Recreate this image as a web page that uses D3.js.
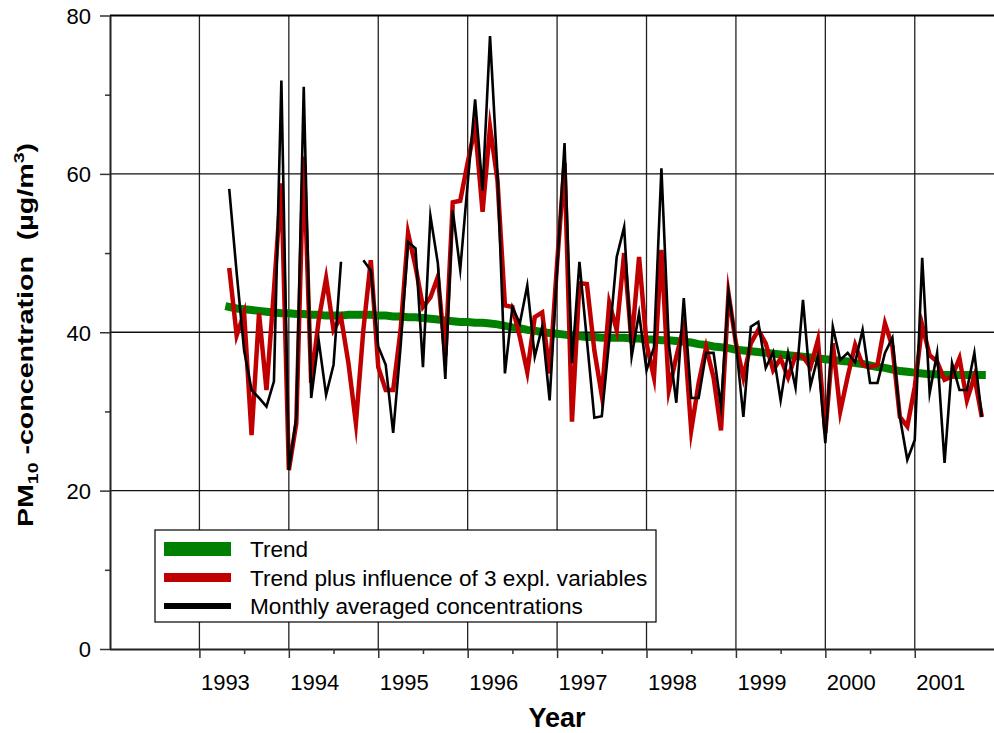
<!DOCTYPE html>
<html>
<head>
<meta charset="utf-8">
<script src="https://cdn.jsdelivr.net/npm/d3@7"></script>
<style>
  html, body { margin: 0; padding: 0; background: #fff; }
  svg { display: block; }
  text { font-family: Arial, "Liberation Sans", Helvetica, sans-serif; fill: #000; }
</style>
</head>
<body>
<svg id="chart" width="994" height="733"></svg>
<script>
// Monthly PM10 series, May 1993 .. Oct 2001 (one value per month)
const firstYear = 1993;
const firstMonth = 5; // May

// Monthly averaged concentrations (µg/m³); null = no measurement
const monthly = [58.1, 47.5, 37.7, 32.7, 31.7, 30.6, 33.8, 71.8, 22.6, 29.2,
  71.0, 31.7, 39.0, 32.1, 35.9, 48.9, null, null, 49.1, 47.8,
  38.2, 35.9, 27.3, 38.2, 51.4, 50.6, 35.6, 54.7, 48.7, 34.1,
  55.4, 47.9, 58.8, 69.4, 57.9, 77.4, 60.1, 34.8, 43.2, 41.1,
  45.9, 36.9, 40.7, 31.4, 47.9, 63.9, 36.1, 48.9, 39.0, 29.2,
  29.4, 39.0, 49.5, 53.3, 36.9, 42.4, 35.2, 38.1, 60.7, 38.6,
  31.1, 44.3, 31.7, 31.7, 37.4, 37.4, 30.6, 45.1, 38.6, 29.3,
  40.7, 41.3, 35.5, 37.5, 31.4, 37.4, 33.0, 44.1, 33.2, 36.9,
  26.0, 40.7, 36.5, 37.4, 36.2, 40.3, 33.6, 33.6, 37.4, 39.3,
  29.3, 23.9, 26.4, 49.4, 32.3, 37.4, 23.5, 36.1, 32.7, 32.7,
  37.4, 29.3];

// Trend plus influence of 3 explanatory variables
const modelled = [48.1, 39.6, 42.4, 27.0, 42.4, 32.7, 45.3, 58.8, 22.6, 28.5,
  62.2, 33.6, 41.5, 46.8, 40.3, 41.9, 36.1, 28.5, 40.3, 49.1,
  35.6, 32.7, 32.7, 40.3, 52.5, 48.3, 43.2, 44.4, 47.0, 37.0,
  56.4, 56.6, 61.4, 65.9, 55.2, 65.9, 59.2, 43.4, 43.2, 39.4,
  35.0, 41.9, 42.5, 34.8, 48.7, 61.4, 28.7, 46.2, 46.1, 37.7,
  32.0, 43.7, 40.3, 50.0, 38.6, 49.5, 38.6, 34.3, 50.4, 32.7,
  36.9, 40.7, 27.6, 33.6, 38.1, 34.3, 27.6, 44.9, 38.6, 34.3,
  38.6, 40.3, 38.6, 35.2, 36.7, 34.3, 37.1, 36.9, 35.6, 39.0,
  27.3, 38.6, 30.0, 34.4, 38.4, 35.9, 35.6, 35.9, 41.1, 38.2,
  29.3, 28.1, 33.1, 40.9, 37.1, 36.3, 34.0, 34.4, 36.7, 31.4,
  34.4, 29.3];

// Long-term trend
const trend = [43.2, 43.0, 42.9, 42.8, 42.7, 42.6, 42.5, 42.4, 42.4, 42.3,
  42.3, 42.2, 42.2, 42.1, 42.1, 42.1, 42.2, 42.2, 42.2, 42.2,
  42.1, 42.1, 42.0, 42.0, 41.9, 41.9, 41.8, 41.7, 41.6, 41.5,
  41.4, 41.3, 41.3, 41.2, 41.2, 41.1, 41.0, 40.8, 40.6, 40.5,
  40.3, 40.2, 40.0, 39.9, 39.8, 39.7, 39.6, 39.5, 39.4, 39.4,
  39.3, 39.3, 39.3, 39.3, 39.2, 39.2, 39.1, 39.1, 39.0, 39.0,
  38.9, 38.8, 38.7, 38.5, 38.4, 38.2, 38.1, 38.0, 37.8, 37.7,
  37.6, 37.5, 37.4, 37.3, 37.2, 37.1, 37.0, 36.9, 36.8, 36.7,
  36.6, 36.5, 36.4, 36.3, 36.1, 36.0, 35.8, 35.6, 35.5, 35.3,
  35.1, 35.0, 34.9, 34.8, 34.7, 34.7, 34.6, 34.6, 34.6, 34.6,
  34.6, 34.6];

const yearTicks = [1993, 1994, 1995, 1996, 1997, 1998, 1999, 2000, 2001];
const halfYearTicks = [1993.5, 1994.5, 1995.5, 1996.5, 1997.5, 1998.5, 1999.5, 2000.5];
const yMajorTicks = [0, 20, 40, 60, 80];
const yMinorTicks = [10, 30, 50, 70];

const legendItems = [
  { label: "Trend", color: "#008000", width: 14 },
  { label: "Trend plus influence of 3 expl. variables", color: "#c00000", width: 9 },
  { label: "Monthly averaged concentrations", color: "#000000", width: 6 }
];

(function () {
  const svg = d3.select("#chart");
  const plotLeft = 110, plotRight = 993, plotTop = 15.5, plotBottom = 649;

  const x = d3.scaleLinear().domain([1992, 2001.875]).range([plotLeft, plotRight]);
  const y = d3.scaleLinear().domain([0, 80]).range([plotBottom, plotTop]);

  const timeOf = i => firstYear + (firstMonth - 1 + i) / 12;

  // grid
  const grid = svg.append("g");
  grid.selectAll("line.v").data(yearTicks).enter().append("line")
    .attr("x1", d => x(d)).attr("x2", d => x(d))
    .attr("y1", plotTop).attr("y2", plotBottom)
    .attr("stroke", "#222").attr("stroke-width", 1.3);
  grid.selectAll("line.h").data([20, 40, 60]).enter().append("line")
    .attr("x1", plotLeft).attr("x2", 994)
    .attr("y1", d => y(d)).attr("y2", d => y(d))
    .attr("stroke", "#111").attr("stroke-width", 1.4);
  // top frame line
  grid.append("line").attr("x1", plotLeft).attr("x2", 994)
    .attr("y1", plotTop).attr("y2", plotTop)
    .attr("stroke", "#000").attr("stroke-width", 2.2);

  // axes
  const xAxis = svg.append("g").attr("transform", `translate(0,${plotBottom})`)
    .call(d3.axisBottom(x).tickValues(yearTicks).tickFormat(d3.format("d"))
          .tickSize(9).tickSizeOuter(0));
  xAxis.select(".domain").attr("stroke", "#222").attr("stroke-width", 2)
    .attr("d", `M${plotLeft},0.5H994`);
  xAxis.selectAll(".tick line").attr("stroke", "#333").attr("stroke-width", 1.5);
  xAxis.selectAll(".tick text")
    .attr("text-anchor", "start").attr("x", 1).attr("y", 41)
    .attr("dy", 0).style("font-size", "22px");
  svg.append("g").attr("transform", `translate(0,${plotBottom})`)
    .call(d3.axisBottom(x).tickValues(halfYearTicks).tickSize(5).tickFormat(""))
    .call(g => g.select(".domain").remove())
    .selectAll(".tick line").attr("stroke", "#333").attr("stroke-width", 1.5);

  const yAxis = svg.append("g").attr("transform", `translate(${plotLeft},0)`)
    .call(d3.axisLeft(y).tickValues(yMajorTicks).tickSize(10).tickSizeOuter(0).tickPadding(9));
  yAxis.select(".domain").attr("stroke", "#222").attr("stroke-width", 2);
  yAxis.selectAll(".tick line").attr("stroke", "#333").attr("stroke-width", 1.5);
  yAxis.selectAll(".tick text").style("font-size", "22px").attr("dy", "0.36em");
  svg.append("g").attr("transform", `translate(${plotLeft},0)`)
    .call(d3.axisLeft(y).tickValues(yMinorTicks).tickSize(5).tickFormat(""))
    .call(g => g.select(".domain").remove())
    .selectAll(".tick line").attr("stroke", "#333").attr("stroke-width", 1.5);

  // series
  const lineGen = d3.line()
    .defined(d => d != null)
    .x((d, i) => x(timeOf(i)))
    .y(d => y(d));

  svg.append("path").datum(trend)
    .attr("d", lineGen).attr("fill", "none")
    .attr("stroke", "#008000").attr("stroke-width", 8)
    .attr("stroke-linecap", "square");
  svg.append("path").datum(modelled)
    .attr("d", lineGen).attr("fill", "none")
    .attr("stroke", "#c00000").attr("stroke-width", 4.5)
    .attr("stroke-linejoin", "miter").attr("stroke-miterlimit", 10);
  svg.append("path").datum(monthly)
    .attr("d", lineGen).attr("fill", "none")
    .attr("stroke", "#000").attr("stroke-width", 2.6)
    .attr("stroke-linejoin", "miter").attr("stroke-miterlimit", 10);

  // legend
  const legend = svg.append("g");
  legend.append("rect")
    .attr("x", 155).attr("y", 530).attr("width", 501).attr("height", 92)
    .attr("fill", "#fff").attr("stroke", "#000").attr("stroke-width", 1.2);
  const rows = legend.selectAll("g.row").data(legendItems).enter().append("g")
    .attr("transform", (d, i) => `translate(0,${[549, 577.5, 606][i]})`);
  rows.append("line")
    .attr("x1", 164).attr("x2", 231).attr("y1", 0).attr("y2", 0)
    .attr("stroke", d => d.color).attr("stroke-width", d => d.width);
  rows.append("text")
    .attr("x", 250).attr("y", 8)
    .style("font-size", "22.6px")
    .text(d => d.label);

  // axis titles
  svg.append("text")
    .attr("x", 557).attr("y", 727)
    .attr("text-anchor", "middle")
    .style("font-size", "27px").style("font-weight", "bold")
    .text("Year");

  const yTitle = svg.append("text")
    .attr("transform", "translate(32.5,335) rotate(-90) scale(1.3,1)")
    .attr("text-anchor", "middle")
    .style("font-size", "22px").style("font-weight", "bold")
    .style("white-space", "pre");
  yTitle.append("tspan").text("PM");
  yTitle.append("tspan").attr("dy", 5).style("font-size", "15px").text("10");
  yTitle.append("tspan").attr("dy", -5).text(" -concentration  (µg/m");
  yTitle.append("tspan").attr("dy", -9).style("font-size", "15px").text("3");
  yTitle.append("tspan").attr("dy", 9).text(")");
})();
</script>
</body>
</html>
